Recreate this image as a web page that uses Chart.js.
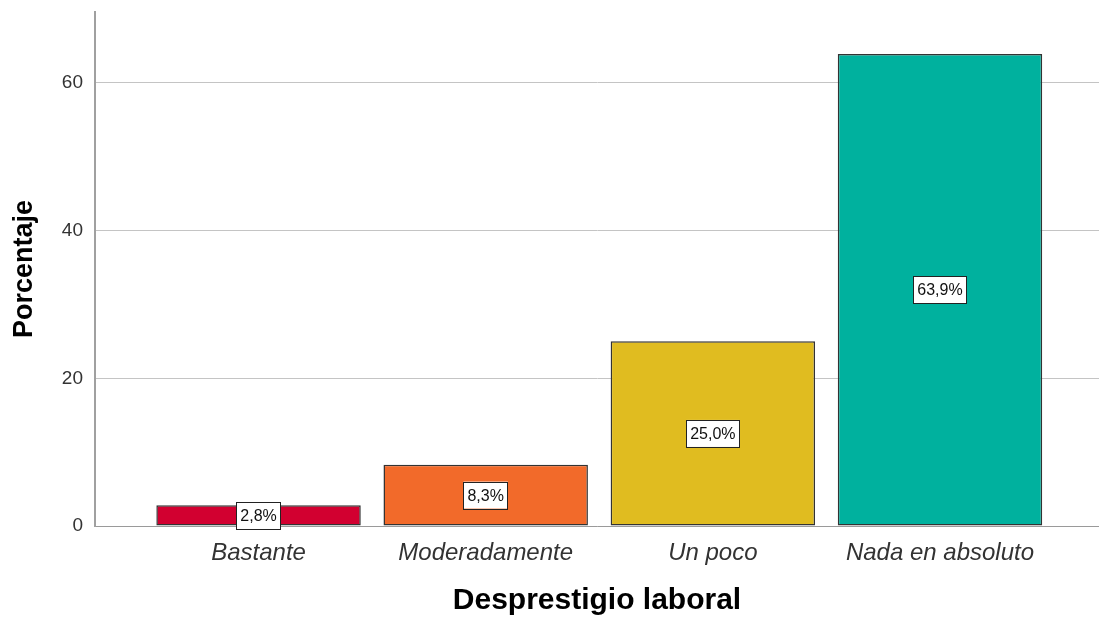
<!DOCTYPE html>
<html>
<head>
<meta charset="utf-8">
<script src="https://cdn.jsdelivr.net/npm/chart.js@4/dist/chart.umd.min.js"></script>
<style>
  html, body { margin: 0; padding: 0; background: #fff; }
  #wrap { width: 1099px; height: 619px; }
</style>
</head>
<body>
<div id="wrap"><canvas id="barChart"></canvas></div>
<script>
// Desprestigio laboral - percentages per category
const categories = ['Bastante', 'Moderadamente', 'Un poco', 'Nada en absoluto'];
const percentages = [2.8, 8.3, 25.0, 63.9];
const valueLabels = ['2,8%', '8,3%', '25,0%', '63,9%'];
const barColors = ['#D20030', '#F26A2A', '#E0BC20', '#00B19E'];
const yTicks = [0, 20, 40, 60];

// white boxes with the percentage in the middle of each bar
const boxLabels = {
    id: 'boxLabels',
    afterDatasetsDraw(chart) {
        const ctx = chart.ctx;
        const bars = chart.getDatasetMeta(0).data;
        ctx.save();
        ctx.font = '16px "Liberation Sans", Arial, sans-serif';
        ctx.textAlign = 'center';
        ctx.textBaseline = 'middle';
        bars.forEach((bar, i) => {
            const cx = bar.x;
            const cy = (bar.y + bar.base) / 2;
            const w = ctx.measureText(valueLabels[i]).width + 8;
            const h = 27;
            ctx.fillStyle = '#fff';
            ctx.fillRect(cx - w / 2, cy - h / 2, w, h);
            ctx.strokeStyle = '#222';
            ctx.lineWidth = 1;
            ctx.strokeRect(Math.round(cx - w / 2) + 0.5, Math.round(cy - h / 2) + 0.5, Math.round(w), h);
            ctx.fillStyle = '#111';
            ctx.fillText(valueLabels[i], cx, cy + 1);
        });
        ctx.restore();
    }
};

const ctx = document.getElementById('barChart').getContext('2d');
const barChart = new Chart(ctx, {
    type: 'bar',
    data: {
        datasets: [{
            data: percentages.map((v, i) => ({ x: i, y: v })),
            backgroundColor: barColors,
            borderColor: '#333',
            borderWidth: 1.5,
            borderSkipped: false,
            barPercentage: 0.9,
            categoryPercentage: 1.0
        }]
    },
    options: {
        responsive: true,
        maintainAspectRatio: false,
        animation: false,
        layout: { padding: { top: 12, right: 0, left: 0, bottom: 0 } },
        plugins: {
            legend: { display: false },
            tooltip: { enabled: false }
        },
        scales: {
            x: {
                type: 'linear',
                offset: false,
                min: -0.72,
                max: 3.7,
                afterBuildTicks: (scale) => {
                    scale.ticks = categories.map((c, i) => ({ value: i }));
                },
                afterFit: (scale) => {
                    scale.height = 93;
                    scale.paddingLeft = 0;
                    scale.paddingRight = 0;
                },
                ticks: {
                    autoSkip: false,
                    maxRotation: 0,
                    padding: 13,
                    color: '#333',
                    font: { family: '"Liberation Sans", Arial, sans-serif', size: 24, style: 'italic' },
                    callback: (v) => categories[v]
                },
                grid: { display: false, drawTicks: false },
                border: { display: true, color: '#9a9a9a', width: 1 },
                title: {
                    display: true,
                    text: 'Desprestigio laboral',
                    color: '#000',
                    font: { family: '"Liberation Sans", Arial, sans-serif', size: 30, weight: 'bold' },
                    padding: { top: 0, bottom: 0 }
                }
            },
            y: {
                min: 0,
                max: 69.6,
                afterBuildTicks: (scale) => {
                    scale.ticks = yTicks.map(v => ({ value: v }));
                },
                afterFit: (scale) => {
                    scale.width = 95;
                    scale.paddingTop = 0;
                    scale.paddingBottom = 0;
                },
                ticks: {
                    padding: 12,
                    color: '#333',
                    font: { family: '"Liberation Sans", Arial, sans-serif', size: 19 }
                },
                grid: { color: '#c4c4c4', lineWidth: 1, drawTicks: false },
                border: { display: true, color: '#a0a0a0', width: 2 },
                title: {
                    display: true,
                    text: 'Porcentaje',
                    color: '#000',
                    font: { family: '"Liberation Sans", Arial, sans-serif', size: 27, weight: 'bold' },
                    padding: { top: 8, bottom: 0 }
                }
            }
        }
    },
    plugins: [boxLabels]
});
</script>
</body>
</html>
